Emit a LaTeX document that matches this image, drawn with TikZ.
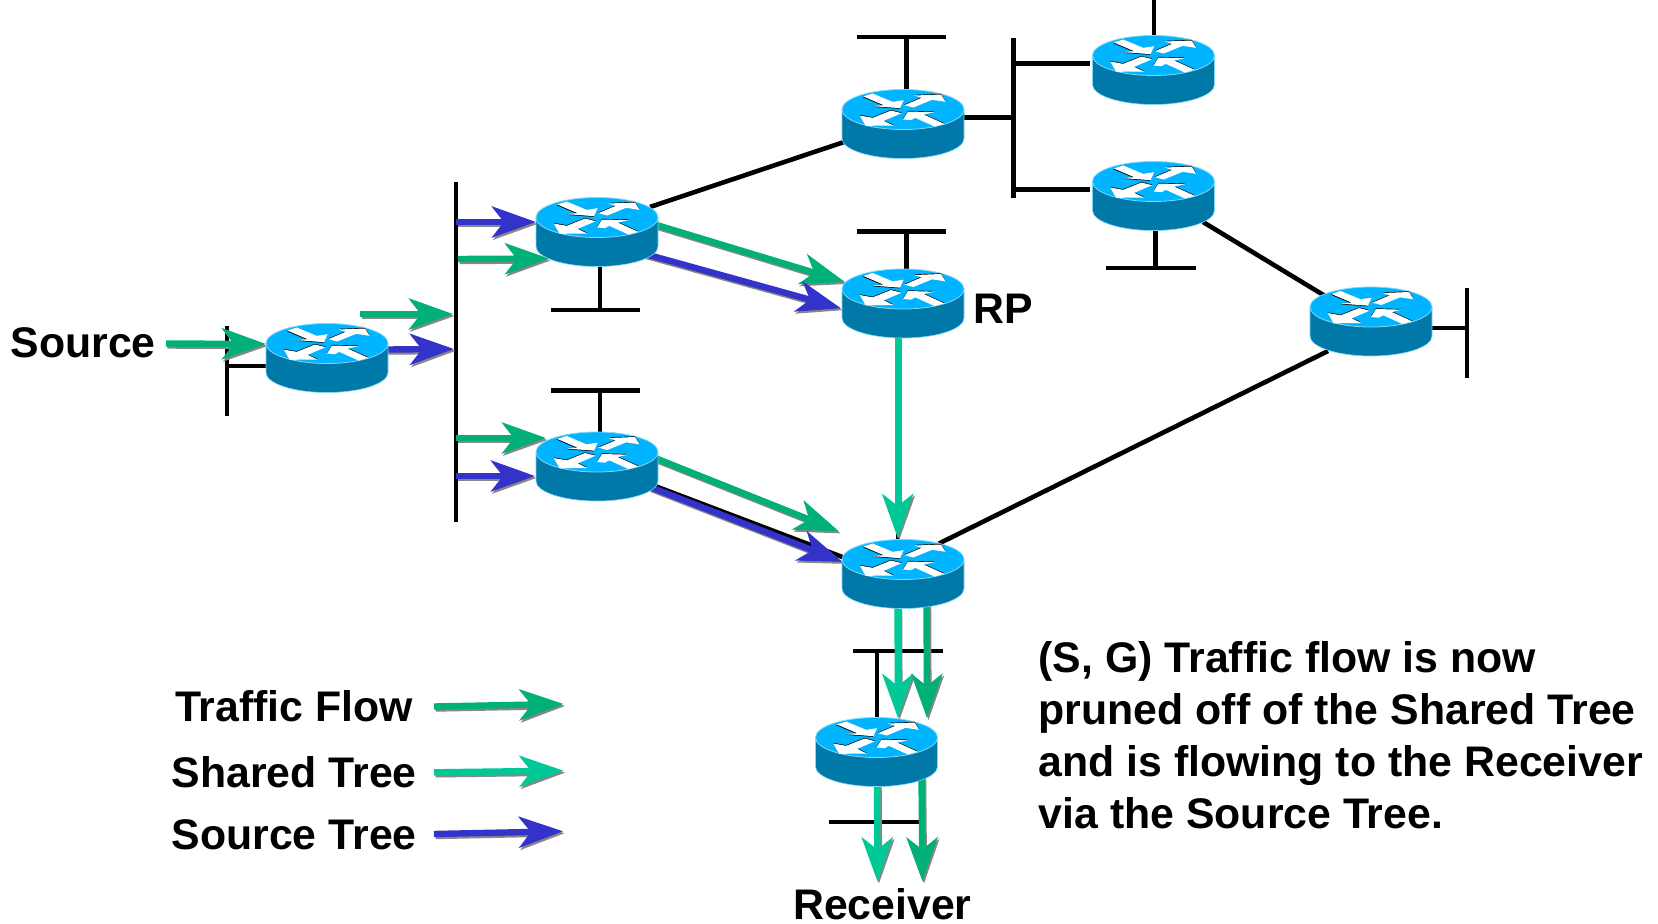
\documentclass[tikz,border=0pt]{standalone}
\usepackage{fontspec}
\setmainfont{Liberation Sans}
\usetikzlibrary{arrows.meta}
\definecolor{trafficgreen}{RGB}{0,176,120}
\definecolor{sharedgreen}{RGB}{0,200,150}
\definecolor{sourceblue}{RGB}{51,51,204}
\definecolor{shadowgray}{RGB}{135,135,135}
\definecolor{routertop}{RGB}{0,180,255}
\definecolor{routerbody}{RGB}{0,120,168}
\definecolor{routeredge}{RGB}{130,215,245}
\newcommand{\flowline}[3]{%
  \draw[flow=shadowgray] ([shift={(1.5,2)}]#2) -- ([shift={(1.5,2)}]#3);
  \draw[flow=#1] (#2) -- (#3);}
\tikzset{
  netline/.style={line width=4.6pt,black,line cap=butt},
  flow/.style={line width=6.4pt,line cap=butt,draw=#1,shorten >=-1pt,
    -{Stealth[length=44pt,width=31pt,inset=12pt]}},
  label/.style={font=\fontsize{42.8}{50}\selectfont\bfseries,inner sep=0pt,anchor=base west,text=black},
  router/.pic={
    \begin{scope}[x=1pt,y=-1pt]
    \path[fill=routerbody,draw=routeredge,line width=.6pt]
      (-61,0) -- (-61,29) arc[start angle=180,end angle=360,x radius=61,y radius=-20] -- (61,0) -- cycle;
    \path[fill=routertop,draw=routeredge,line width=.8pt] (0,0) ellipse[x radius=61,y radius=20];
    \begin{scope}[x=.3333pt,y=-.3333pt,shift={(-216,-81)}]
      \fill[black,shift={(-2,2)}] (97,42) -- (125,33) -- (185,58) -- (218,53) -- (207,77) -- (126,71) -- (158,68) -- cycle;
      \fill[white] (97,42) -- (125,33) -- (185,58) -- (218,53) -- (207,77) -- (126,71) -- (158,68) -- cycle;
      \fill[black,shift={(0,-2)}] (220,68) -- (272,46) -- (250,39) -- (330,36) -- (344,58) -- (303,52) -- (247,75) -- cycle;
      \fill[white] (220,68) -- (272,46) -- (250,39) -- (330,36) -- (344,58) -- (303,52) -- (247,75) -- cycle;
      \fill[black,shift={(0,-2)}] (86,99) -- (125,106) -- (180,84) -- (212,92) -- (158,115) -- (187,129) -- (104,130) -- cycle;
      \fill[white] (86,99) -- (125,106) -- (180,84) -- (212,92) -- (158,115) -- (187,129) -- (104,130) -- cycle;
      \fill[black,shift={(0,-2)}] (216,111) -- (231,87) -- (310,89) -- (278,96) -- (340,124) -- (310,132) -- (253,106) -- (240,113) -- cycle;
      \fill[white] (216,111) -- (231,87) -- (310,89) -- (278,96) -- (340,124) -- (310,132) -- (253,106) -- (240,113) -- cycle;
    \end{scope}
    \end{scope}
  }
}
\begin{document}
\begin{tikzpicture}[x=1pt,y=-1pt]
\useasboundingbox[fill=white] (0,0) rectangle (1658,924);
% router positions (centre of the top face)
\coordinate (r1) at (327,343.5);
\coordinate (r2) at (597,217.5);
\coordinate (r3) at (597,452);
\coordinate (r4) at (903,289);
\coordinate (r5) at (903,109.5);
\coordinate (r6) at (1153.5,55.5);
\coordinate (r7) at (1153.5,181.5);
\coordinate (r8) at (1371,307);
\coordinate (r9) at (903,559.5);
\coordinate (r10) at (876.5,737.5);
% network segments
\coordinate (busT) at (456,182); \coordinate (busB) at (456,522);
\draw[netline] (busT) -- (busB);
\coordinate (lanAT) at (227,326); \coordinate (lanAB) at (227,416); \coordinate (lanAM) at (227,366);
\draw[netline] (lanAT) -- (lanAB);
\draw[netline] (lanAM) -- (lanAM -| r1);
\coordinate (b2L) at (551,310); \coordinate (b2R) at (640,310); \coordinate (b2M) at (600,310);
\draw[netline] (b2L) -- (b2R); \draw[netline] (b2M) -- (b2M |- r2);
\coordinate (b3L) at (551,390.5); \coordinate (b3R) at (640,390.5); \coordinate (b3M) at (600,390.5);
\draw[netline] (b3L) -- (b3R); \draw[netline] (b3M) -- (b3M |- r3);
\coordinate (b4L) at (857,231.5); \coordinate (b4R) at (946,231.5); \coordinate (b4M) at (906.5,231.5);
\draw[netline] (b4L) -- (b4R); \draw[netline] (b4M) -- (b4M |- r4);
\coordinate (b5L) at (857,37); \coordinate (b5R) at (946,37); \coordinate (b5M) at (906.5,37);
\draw[netline] (b5L) -- (b5R); \draw[netline] (b5M) -- (b5M |- r5);
\coordinate (b6T) at (1013.5,38); \coordinate (b6B) at (1013.5,198); \coordinate (b6M) at (1013.5,117.5);
\coordinate (b6A) at (1013.5,63.5); \coordinate (b6C) at (1013.5,189.5);
\coordinate (b6Ae) at (1089.5,63.5); \coordinate (b6Ce) at (1089.5,189.5);
\draw[netline] (b6T) -- (b6B);
\draw[netline] (b6M) -- (b6M -| r5);
\draw[netline] (b6A) -- (b6Ae);
\draw[netline] (b6C) -- (b6Ce);
\coordinate (topstub) at (1154,0);
\draw[netline] (topstub) -- (topstub |- r6);
\coordinate (b7L) at (1106,268); \coordinate (b7R) at (1196,268); \coordinate (b7M) at (1155.5,268);
\draw[netline] (b7L) -- (b7R); \draw[netline] (b7M) -- (b7M |- r7);
\coordinate (r7o) at (1203,222); \coordinate (r8i) at (1330,299);
\draw[netline] (r7o) -- (r8i);
\coordinate (b8T) at (1467,288); \coordinate (b8B) at (1467,377.5); \coordinate (b8M) at (1467,328);
\draw[netline] (b8T) -- (b8B); \draw[netline] (b8M) -- (b8M -| r8);
\coordinate (r8o) at (1328,351); \coordinate (r9i) at (939,543.5);
\draw[netline] (r8o) -- (r9i);
\coordinate (r2o) at (650,207); \coordinate (r5i) at (844,142);
\draw[netline] (r2o) -- (r5i);
\coordinate (r3o) at (655,486); \coordinate (r9j) at (845,558);
\draw[netline] (r3o) -- (r9j);
\coordinate (r4v) at (898,338); \coordinate (r9k) at (898,545);
\draw[netline] (r4v) -- (r9k);
\coordinate (b9L) at (853,651); \coordinate (b9R) at (943,651); \coordinate (b9M) at (877,651);
\draw[netline] (b9L) -- (b9R); \draw[netline] (b9M) -- (b9M |- r10);
\coordinate (b10L) at (829,822); \coordinate (b10R) at (919,822);
\draw[netline] (b10L) -- (b10R);
% flows
\coordinate (a1s) at (166,343.5); \coordinate (a1e) at (265,344);
\flowline{trafficgreen}{a1s}{a1e}
\coordinate (a2s) at (360,314); \coordinate (a2e) at (452,314);
\flowline{trafficgreen}{a2s}{a2e}
\coordinate (a3s) at (386,349.5); \coordinate (a3e) at (453,349);
\flowline{sourceblue}{a3s}{a3e}
\coordinate (a4s) at (456,222); \coordinate (a4e) at (535,222);
\flowline{sourceblue}{a4s}{a4e}
\coordinate (a5s) at (458,259); \coordinate (a5e) at (548,258.5);
\flowline{trafficgreen}{a5s}{a5e}
\coordinate (a6s) at (456,438); \coordinate (a6e) at (545,438);
\flowline{trafficgreen}{a6s}{a6e}
\coordinate (a7s) at (456,476); \coordinate (a7e) at (534,476);
\flowline{sourceblue}{a7s}{a7e}
\coordinate (a8s) at (650,223); \coordinate (a8e) at (844,281.7);
\flowline{trafficgreen}{a8s}{a8e}
\coordinate (a9s) at (645,254); \coordinate (a9e) at (840,308);
\flowline{sourceblue}{a9s}{a9e}
\coordinate (a10s) at (650,456); \coordinate (a10e) at (838,531);
\flowline{trafficgreen}{a10s}{a10e}
\coordinate (a11s) at (650,487); \coordinate (a11e) at (841.5,561.5);
\flowline{sourceblue}{a11s}{a11e}
\coordinate (a12s) at (897.7,335); \coordinate (a12e) at (897.7,537);
\flowline{sharedgreen}{a12s}{a12e}
\coordinate (a13s) at (897.5,600); \coordinate (a13e) at (898,717);
\flowline{sharedgreen}{a13s}{a13e}
\coordinate (a14s) at (926.5,600); \coordinate (a14e) at (927,717);
\flowline{trafficgreen}{a14s}{a14e}
\coordinate (a15s) at (877,780); \coordinate (a15e) at (877.5,880.5);
\flowline{sharedgreen}{a15s}{a15e}
\coordinate (a16s) at (921.5,775); \coordinate (a16e) at (922.5,880.5);
\flowline{trafficgreen}{a16s}{a16e}
% routers
\foreach \r in {r1,r2,r3,r4,r5,r6,r7,r8,r9,r10} \pic at (\r) {router};
% legend
\coordinate (l1s) at (434,706.5); \coordinate (l1e) at (562.5,704);
\flowline{trafficgreen}{l1s}{l1e}
\coordinate (l2s) at (434,772.3); \coordinate (l2e) at (562.5,770.7);
\flowline{sharedgreen}{l2s}{l2e}
\coordinate (l3s) at (434,834); \coordinate (l3e) at (562,831.3);
\flowline{sourceblue}{l3s}{l3e}
% labels
\node[label] (tSource) at (10.5,357.5) {Source};
\node[label] (tRP) at (973,323) {RP};
\node[label] (tTraffic) at (175,721.5) {Traffic Flow};
\node[label] (tShared) at (171.5,787.5) {Shared Tree};
\node[label] (tSrcTree) at (171.5,849) {Source Tree};
\node[label] (tReceiver) at (793,919.5) {Receiver};
\node[font=\fontsize{42.8}{51.8}\selectfont\bfseries,inner sep=0pt,anchor=north west,align=left] (tNote) at (1038.5,641.5)
  {(S, G) Traffic flow is now\\pruned off of the Shared Tree\\and is flowing to the Receiver\\via the Source Tree.};
\end{tikzpicture}
\end{document}
